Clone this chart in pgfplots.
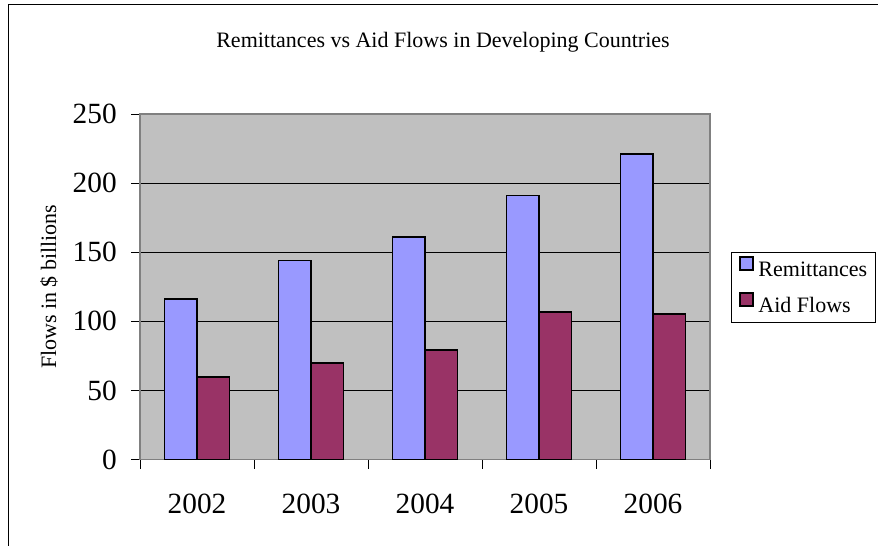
\documentclass[border=0pt]{standalone}
\usepackage{fontspec}
\setmainfont{Liberation Serif}
\usepackage{pgfplots}
\usepackage{pgfplotstable}
\pgfplotsset{compat=1.18}

\definecolor{remitcol}{HTML}{9999FF}
\definecolor{aidcol}{HTML}{993366}
\definecolor{plotbg}{HTML}{C0C0C0}
\definecolor{framegray}{HTML}{808080}

% Flows in $ billions, by year
\pgfplotstableread{
idx year remit aid
0 2002 116 60
1 2003 144 70
2 2004 161 79
3 2005 191 107
4 2006 221 105
}\flows

\begin{document}
\begin{tikzpicture}[x=0.75pt,y=0.75pt]
\useasboundingbox (0,0) rectangle (878,546);
\clip (0,0) rectangle (878,546);
% outer chart frame
\draw[black, line width=0.75pt] (8,-10) -- (8,541) -- (900,541);
\begin{axis}[
  at={(105pt,64.875pt)}, anchor=south west,
  scale only axis, width=427.5pt, height=259.1pt,
  xmin=-0.5, xmax=4.5, ymin=0, ymax=250,
  ybar=0pt, bar width=24.4pt,
  axis background/.style={fill=plotbg},
  axis line style={draw=framegray, line width=1.2pt},
  xtick={-0.5,0.5,1.5,2.5,3.5,4.5},
  xticklabels={,,,,,},
  extra x ticks={0,1,2,3,4},
  extra x tick labels={2002,2003,2004,2005,2006},
  extra x tick style={major tick length=0pt, grid=none},
  ytick={0,50,100,150,200,250},
  xtick pos=bottom, ytick pos=left,
  tick align=outside,
  major tick length=6.75pt,
  tick style={black, line width=0.75pt},
  ymajorgrids, major grid style={black, line width=0.75pt},
  /pgf/number format/assume math mode=true,
  ticklabel style={font=\fontsize{22}{22}\selectfont},
  yticklabel style={anchor=east, inner sep=0pt, xshift=-10.5pt},
  xticklabel style={anchor=base, inner sep=0pt, yshift=-40.5pt},
  ylabel={Flows in \$ billions},
  ylabel style={at={(axis description cs:-0.1596,0.5)}, anchor=center, font=\fontsize{16.5}{16.5}\selectfont},
  title={Remittances vs Aid Flows in Developing Countries},
  title style={at={(axis description cs:0.5316,1.168)}, anchor=base, inner sep=0pt, font=\fontsize{16.5}{16.5}\selectfont},
  legend style={
    at={(axis description cs:1.0368,0.6015)}, anchor=north west,
    draw=black, line width=0.75pt, fill=white,
    font=\fontsize{16.5}{16.5}\selectfont,
    inner xsep=6pt, inner ysep=3pt,
    nodes={inner sep=0pt, text height=12pt, text depth=4.5pt},
    row sep=7.5pt, column sep=3pt,
  },
  legend cell align=left,
  legend image code/.code={\draw[#1, draw=black, line width=1.5pt] (0.75pt,0.75pt) rectangle (10.5pt,10.5pt);},
]
\addplot[fill=remitcol, draw=black, line width=1.4pt] table[x=idx, y=remit] {\flows};
\addlegendentry{Remittances}
\addplot[fill=aidcol, draw=black, line width=1.4pt] table[x=idx, y=aid] {\flows};
\addlegendentry{Aid Flows}
\end{axis}
\end{tikzpicture}
\end{document}
